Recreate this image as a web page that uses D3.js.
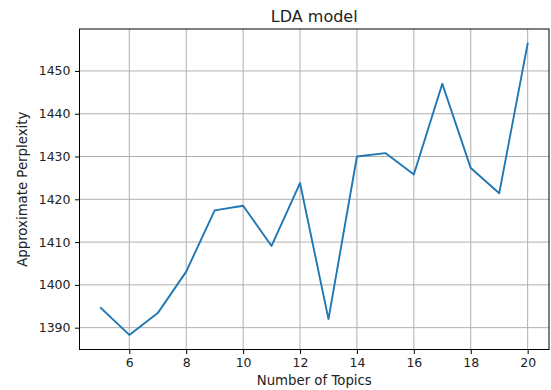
<!DOCTYPE html>
<html><head><meta charset="utf-8">
<script src="https://cdn.jsdelivr.net/npm/d3@7"></script>
<style>
html,body{margin:0;padding:0;background:#fff;}
svg{display:block;font-family:"DejaVu Sans",sans-serif;}
</style></head>
<body>
<svg id="chart" width="551" height="390"></svg>
<script>
const topics = [5,6,7,8,9,10,11,12,13,14,15,16,17,18,19,20];
const perplexity = [1394.6,1388.3,1393.4,1403.1,1417.4,1418.5,1409.1,1423.8,1392.0,1430.0,1430.8,1425.8,1447.0,1427.3,1421.4,1456.4];
const xTicks = [6,8,10,12,14,16,18,20];
const yTicks = [1390,1400,1410,1420,1430,1440,1450];
const titleText = "LDA model";
const xLabel = "Number of Topics";
const yLabel = "Approximate Perplexity";

const svg = d3.select("#chart");
const L = 79.5, R = 549, T = 29, B = 349.5;

const xmin = d3.min(topics), xmax = d3.max(topics), xr = xmax - xmin;
const ymin = d3.min(perplexity), ymax = d3.max(perplexity), yr = ymax - ymin;
const x = d3.scaleLinear().domain([xmin - 0.05*xr, xmax + 0.05*xr]).range([L, R]);
const y = d3.scaleLinear().domain([ymin - 0.05*yr, ymax + 0.05*yr]).range([B, T]);

// grid
const g = svg.append("g");
g.selectAll(".gx").data(xTicks).enter().append("line")
  .attr("x1", d => x(d)).attr("x2", d => x(d)).attr("y1", T).attr("y2", B)
  .attr("stroke", "#b0b0b0").attr("stroke-width", 1);
g.selectAll(".gy").data(yTicks).enter().append("line")
  .attr("x1", L).attr("x2", R).attr("y1", d => y(d)).attr("y2", d => y(d))
  .attr("stroke", "#b0b0b0").attr("stroke-width", 1);

// line
svg.append("path").datum(topics.map((t,i)=>[t, perplexity[i]]))
  .attr("fill", "none").attr("stroke", "#1f77b4").attr("stroke-width", 1.9)
  .attr("stroke-linejoin", "round").attr("stroke-linecap", "square")
  .attr("d", d3.line().x(d => x(d[0])).y(d => y(d[1])));

// axes
const xAxis = d3.axisBottom(x).tickValues(xTicks).tickSize(4.5).tickPadding(4.5).tickFormat(d3.format("d"));
const yAxis = d3.axisLeft(y).tickValues(yTicks).tickSize(4.5).tickPadding(4.5).tickFormat(d3.format("d"));
const ax = svg.append("g").attr("transform", `translate(0,${B})`).call(xAxis);
const ay = svg.append("g").attr("transform", `translate(${L},0)`).call(yAxis);
[ax, ay].forEach(a => {
  a.select(".domain").remove();
  a.selectAll("line").attr("stroke", "#000").attr("stroke-width", 1);
  a.selectAll("text").attr("fill", "#222").style("font-size", "12.5px").style("font-family", "DejaVu Sans");
});

// frame
svg.append("rect").attr("x", L).attr("y", T).attr("width", R - L).attr("height", B - T)
  .attr("fill", "none").attr("stroke", "#000").attr("stroke-width", 1);

// labels
svg.append("text").attr("x", (L+R)/2).attr("y", 21.5).attr("text-anchor", "middle")
  .style("font-size", "16px").attr("fill", "#222").text(titleText);
svg.append("text").attr("x", (L+R)/2).attr("y", 384.5).attr("text-anchor", "middle")
  .style("font-size", "13.3px").attr("fill", "#222").text(xLabel);
svg.append("text").attr("transform", `translate(27,${(T+B)/2}) rotate(-90)`).attr("text-anchor", "middle")
  .style("font-size", "13.3px").attr("fill", "#222").text(yLabel);
</script>
</body></html>
